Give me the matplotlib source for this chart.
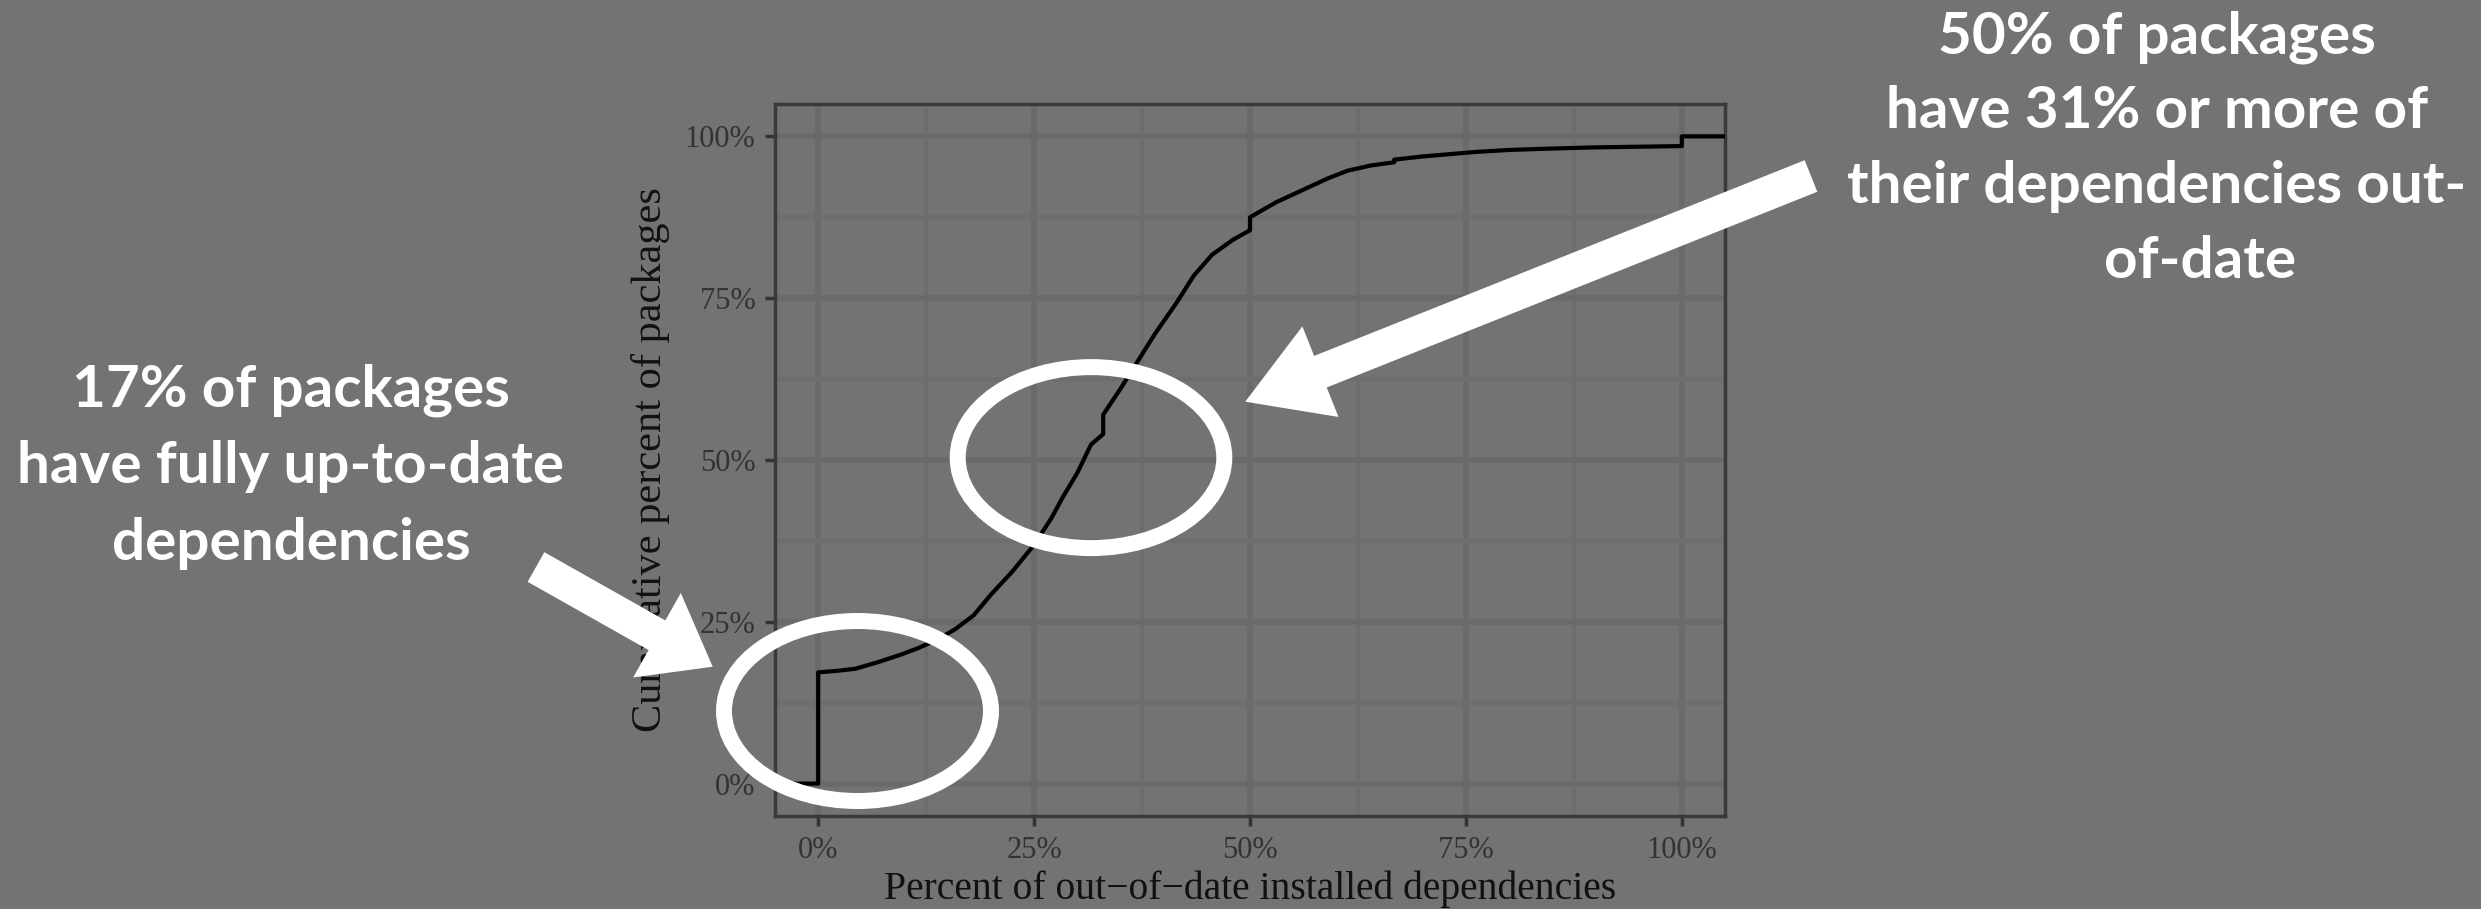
"""
Cumulative share of packages by percent of out-of-date dependencies,
with slide-style callouts on top.
"""
import matplotlib
matplotlib.use('Agg')
import matplotlib.pyplot as plt
from matplotlib.patches import Ellipse, FancyArrow

# Curve (percent out-of-date -> cumulative percent)
pct_outdated = [-5, 0, 0, 2, 4.3, 7, 9.5, 11.7, 14, 15.9, 18, 20, 22.5, 25,
                27, 28.3, 30, 31.6, 33, 33, 35, 36.5, 39, 41.5, 43.5, 45.6,
                48, 50, 50, 53, 56.4, 59, 61.3, 64, 66.7, 66.7, 70, 76.2,
                80, 84.5, 90, 95, 100, 100, 105]
cum_pct = [0, 0, 17.2, 17.4, 17.75, 18.8, 19.9, 21, 22.4, 23.9, 26, 29.2,
           32.8, 36.9, 41, 44.2, 48, 52.4, 54, 57, 61, 64.2, 69.5, 74.3,
           78.5, 81.7, 84, 85.5, 87.5, 89.8, 91.9, 93.5, 94.7, 95.5, 96.0,
           96.4, 96.9, 97.6, 97.9, 98.1, 98.3, 98.4, 98.5, 100, 100]

tick_values = [0, 25, 50, 75, 100]
tick_labels = ['0%', '25%', '50%', '75%', '100%']
minor_values = [12.5, 37.5, 62.5, 87.5]

x_title = 'Percent of out\u2212of\u2212date installed dependencies'
y_title = 'Cumulative percent of packages'

note_left = ['17% of packages', 'have fully up-to-date', 'dependencies']
note_right = ['50% of packages', 'have 31% or more of',
              'their dependencies out-', 'of-date']

BG = '#737373'
W, H = 2481, 909

fig = plt.figure(figsize=(W / 100, H / 100), dpi=100, facecolor=BG)

# --- the chart itself ---
ax = fig.add_axes([775 / W, 1 - 816 / H, 950 / W, 712 / H])
ax.set_facecolor(BG)
ax.set_xlim(-5, 105)
ax.set_ylim(-5, 105)

ax.set_xticks(tick_values)
ax.set_xticklabels(tick_labels)
ax.set_yticks(tick_values)
ax.set_yticklabels(tick_labels)
ax.set_xticks(minor_values, minor=True)
ax.set_yticks(minor_values, minor=True)

ax.grid(which='major', color='#6a6a6a', lw=4, zorder=0)
ax.grid(which='minor', color='#6d6d6d', lw=3, zorder=0)
ax.set_axisbelow(True)

for sp in ax.spines.values():
    sp.set_color('#3a3a3a')
    sp.set_linewidth(2.5)

serif = 'Liberation Serif'
ax.tick_params(which='major', length=7.5, width=2.5, color='#333333',
               labelcolor='#333333', labelsize=22)
ax.tick_params(axis='x', pad=7)
ax.tick_params(axis='y', pad=6.5)
ax.tick_params(which='minor', length=0)
for lab in ax.get_xticklabels() + ax.get_yticklabels():
    lab.set_fontfamily(serif)

ax.plot(pct_outdated, cum_pct, color='black', lw=3, zorder=3)

ax.set_xlabel(x_title, fontsize=28.5, family=serif, color='#111111')
ax.xaxis.set_label_coords(0.5, (816 - 899) / 712)
ax.xaxis.label.set_va('baseline')
ax.set_ylabel(y_title, fontsize=30.5, family=serif, color='#111111')
ax.yaxis.set_label_coords((650 - 775) / 950, 0.5)
ax.yaxis.label.set_va('center')

# --- slide overlay in pixel coordinates ---
ov = fig.add_axes([0, 0, 1, 1], zorder=5)
ov.set_xlim(0, W)
ov.set_ylim(H, 0)
ov.axis('off')
ov.patch.set_alpha(0)

ov.add_patch(Ellipse((857.5, 711), 267, 180, fill=False, ec='white', lw=11.5))
ov.add_patch(Ellipse((1091, 457.6), 266.6, 181, fill=False, ec='white', lw=11.5))

ov.add_patch(FancyArrow(536, 567, 176.7, 99.7, width=34, head_width=97,
                        head_length=64, length_includes_head=True,
                        color='white', lw=0))
ov.add_patch(FancyArrow(1811, 176, -565.8, 225.7, width=34, head_width=97.5,
                        head_length=81, length_includes_head=True,
                        color='white', lw=0))

note_font = dict(fontsize=42, fontweight='bold', family='Lato', color='white',
                 ha='center', va='baseline')
for line, y in zip(note_left, [406.7, 483, 560]):
    ov.text(291, y, line, **note_font)
right_x = [2157, 2157, 2157, 2200]
for line, x, y in zip(note_right, right_x, [53.3, 128, 203, 278]):
    ov.text(x, y, line, **note_font)

fig.savefig('out.png', dpi=100, facecolor=BG)
plt.close(fig)
